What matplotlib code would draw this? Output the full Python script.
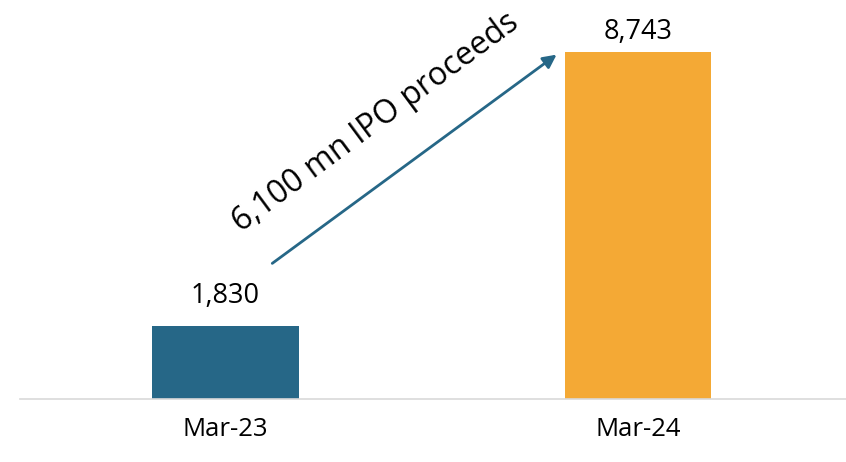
import matplotlib
matplotlib.use("Agg")
import matplotlib.pyplot as plt

categories = ["Mar-23", "Mar-24"]
values = [1830, 8743]
colors = ["#266787", "#F4A935"]
annotation_text = "6,100 mn IPO proceeds"

label_gap_pt = [12, 4.5]  # vertical gap (points) between bar top and its label

plt.rcParams['font.family'] = ['Open Sans', 'DejaVu Sans']

fig = plt.figure(figsize=(8.46, 4.62), dpi=100)
ax = fig.add_axes([20/846, 63/462, 826/846, 399/462])

x = list(range(len(categories)))
bars = ax.bar(x, values, width=0.356, color=colors)
ax.set_xlim(-0.498, 1.504)
ax.set_ylim(0, values[1] * 399 / 347)

for xi, v, g in zip(x, values, label_gap_pt):
    ax.annotate(f"{v:,}", xy=(xi, v), xytext=(0, g), textcoords="offset points",
                ha="center", va="bottom", fontsize=19.5, color="#000000")

ax.set_xticks(x)
ax.set_xticklabels(categories, fontsize=18.5, color="#000000")
ax.tick_params(axis="x", length=0, pad=13)
ax.set_yticks([])
for s in ["top", "left", "right"]:
    ax.spines[s].set_visible(False)
ax.spines["bottom"].set_color("#d9d9d9")
ax.spines["bottom"].set_linewidth(1.2)

ax.annotate("", xy=(0.808, 8718), xytext=(0.108, 3376),
            arrowprops=dict(arrowstyle="-|>,head_length=0.8,head_width=0.4",
                            color="#266787", lw=2))
ax.text(0.365, 6980, annotation_text, rotation=36.5, rotation_mode="anchor",
        ha="center", va="center", fontsize=23, color="#000000")

fig.savefig("out.png", dpi=100)
